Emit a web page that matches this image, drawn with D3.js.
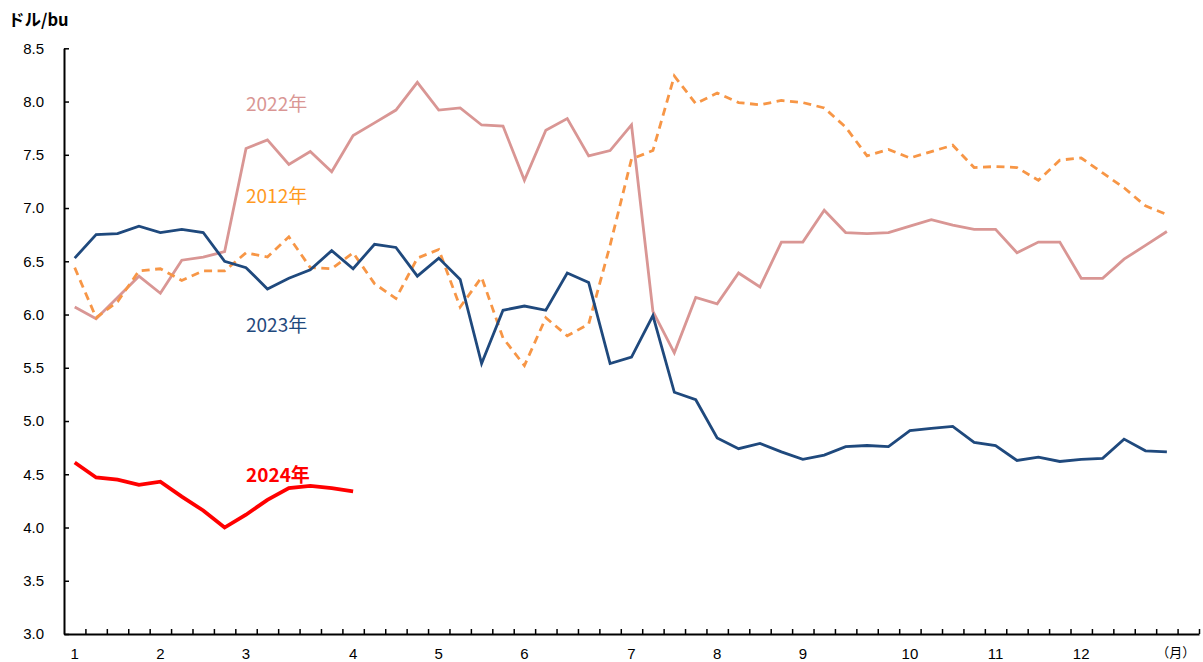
<!DOCTYPE html>
<html>
<head>
<meta charset="utf-8">
<script src="https://cdn.jsdelivr.net/npm/d3@7"></script>
<style>
  html, body { margin: 0; padding: 0; background: #fff; }
  svg { display: block; }
</style>
</head>
<body>
<svg id="chart" width="1203" height="662"></svg>
<script>
// ---- data ----
const weekCount = 53;
const monthLabels = ["1","2","3","4","5","6","7","8","9","10","11","12","（月）"];
const monthWeekIndex = [0,4,8,13,17,21,26,30,34,39,43,47,51];
const yTicks = [3.0,3.5,4.0,4.5,5.0,5.5,6.0,6.5,7.0,7.5,8.0,8.5];

const s2022 = [6.07,5.96,6.16,6.36,6.20,6.51,6.54,6.59,7.56,7.64,7.41,7.53,7.34,7.68,7.80,7.92,8.18,7.92,7.94,7.78,7.77,7.26,7.73,7.84,7.49,7.54,7.78,6.03,5.64,6.16,6.10,6.39,6.26,6.68,6.68,6.98,6.77,6.76,6.77,6.83,6.89,6.84,6.80,6.80,6.58,6.68,6.68,6.34,6.34,6.52,6.65,6.78];
const s2012 = [6.44,5.97,6.12,6.41,6.43,6.32,6.41,6.41,6.58,6.54,6.73,6.44,6.43,6.58,6.29,6.15,6.53,6.61,6.07,6.35,5.78,5.52,5.97,5.80,5.91,6.65,7.46,7.54,8.24,7.98,8.08,7.99,7.97,8.01,7.99,7.94,7.76,7.49,7.55,7.47,7.53,7.59,7.38,7.39,7.38,7.26,7.45,7.47,7.33,7.19,7.02,6.94];
const s2023 = [6.53,6.75,6.76,6.83,6.77,6.80,6.77,6.50,6.44,6.24,6.34,6.42,6.60,6.43,6.66,6.63,6.36,6.53,6.33,5.54,6.04,6.08,6.04,6.39,6.30,5.54,5.60,5.99,5.27,5.20,4.84,4.74,4.79,4.71,4.64,4.68,4.76,4.77,4.76,4.91,4.93,4.95,4.80,4.77,4.63,4.66,4.62,4.64,4.65,4.83,4.72,4.71];
const s2024 = [4.61,4.47,4.45,4.40,4.43,4.29,4.16,4.00,4.12,4.26,4.37,4.39,4.37,4.34];

const seriesNames = ["2022年","2012年","2023年","2024年"];
const labelWeek = [8, 8, 8, 8];
const labelValue = [7.99, 7.13, 5.92, 4.51];

// ---- layout ----
const svg = d3.select("#chart");
const mLeft = 64, mRight = 1199, mTop = 48.3, mBottom = 634;

const xw = d3.scaleLinear().domain([0, weekCount]).range([mLeft, mRight]);
const xc = i => xw(i + 0.5);
const y = d3.scaleLinear().domain([3.0, 8.5]).range([mBottom, mTop]);

svg.append("rect").attr("width",1203).attr("height",662).attr("fill","#fff");

// Y axis
const yAxis = d3.axisLeft(y).tickValues(yTicks).tickFormat(d3.format(".1f"))
  .tickSizeInner(-5).tickSizeOuter(0).tickPadding(20);
const gy = svg.append("g").attr("transform",`translate(${mLeft},0)`).call(yAxis);
gy.select(".domain").attr("stroke","#000").attr("stroke-width",2);
gy.selectAll(".tick line").attr("stroke","#000").attr("stroke-width",1.5);
gy.selectAll("text").attr("font-family","'Liberation Sans', Arial, sans-serif")
  .attr("font-size",15).attr("fill","#000");

// X axis (week boundaries)
const xAxis = d3.axisBottom(xw).tickValues(d3.range(1, weekCount + 1)).tickFormat("")
  .tickSizeInner(-5).tickSizeOuter(0);
const gx = svg.append("g").attr("transform",`translate(0,${mBottom})`).call(xAxis);
gx.select(".domain").attr("stroke","#000").attr("stroke-width",2);
gx.selectAll(".tick line").attr("stroke","#000").attr("stroke-width",1.5);

// month labels
const lastIdx = monthLabels.length - 1;
svg.append("g").selectAll("text").data(monthLabels).join("text")
  .attr("x",(d,i)=> xc(monthWeekIndex[i]) + (i === lastIdx ? 9 : 0))
  .attr("y",(d,i)=> i === lastIdx ? 657 : 659)
  .attr("text-anchor","middle")
  .attr("font-family",(d,i)=> i === lastIdx ? "'Noto Sans CJK JP', sans-serif" : "'Liberation Sans', Arial, sans-serif")
  .attr("font-size",(d,i)=> i === lastIdx ? 13 : 15)
  .attr("fill","#000")
  .text(d=>d);

// unit label
svg.append("text").attr("x",8).attr("y",26)
  .attr("font-family","'Noto Sans CJK JP', sans-serif").attr("font-weight","bold")
  .attr("font-size",16.5).attr("fill","#000").text("ドル/bu");

// lines
const line = d3.line().x((d,i)=>xc(i)).y(d=>y(d));
const styles = [
  {data:s2022, color:"#D99694", width:2.8, dash:null},
  {data:s2012, color:"#F79646", width:2.8, dash:"8,5.5"},
  {data:s2023, color:"#1F497D", width:2.8, dash:null},
  {data:s2024, color:"#FF0000", width:3.8, dash:null}
];
styles.forEach(s=>{
  svg.append("path").datum(s.data)
    .attr("d", line)
    .attr("fill","none")
    .attr("stroke", s.color)
    .attr("stroke-width", s.width)
    .attr("stroke-linejoin","miter")
    .attr("stroke-dasharray", s.dash);
});

// series labels
const labelColors = ["#D99694","#FF9A1F","#1F497D","#FF0000"];
svg.append("g").selectAll("text").data(seriesNames).join("text")
  .attr("x",(d,i)=>xc(labelWeek[i]))
  .attr("y",(d,i)=>y(labelValue[i]))
  .attr("dominant-baseline","central")
  .attr("font-family","'Noto Sans CJK JP', sans-serif")
  .attr("font-size",19)
  .attr("font-weight",(d,i)=> i===3 ? "bold" : "normal")
  .attr("fill",(d,i)=>labelColors[i])
  .text(d=>d);
</script>
</body>
</html>
